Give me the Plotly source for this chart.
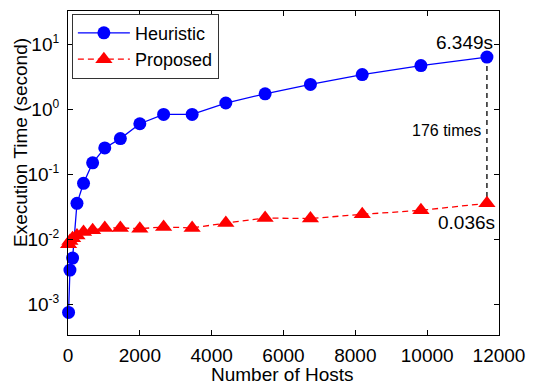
import plotly.graph_objects as go
import math

hosts = [16, 54, 128, 250, 432, 686, 1024, 1458, 2000, 2662, 3456, 4394, 5488, 6750, 8192, 9826, 11664]
heuristic = [0.00076, 0.0034, 0.0052, 0.036, 0.073, 0.151, 0.255, 0.355, 0.60, 0.835, 0.835,
             1.25, 1.73, 2.41, 3.42, 4.70, 6.349]
proposed = [0.0085, 0.0095, 0.0105, 0.0115, 0.0131, 0.0139, 0.0151, 0.0151, 0.0147, 0.0156, 0.0151,
            0.0179, 0.0214, 0.0210, 0.0244, 0.0281, 0.036]

x_ticks = [0, 2000, 4000, 6000, 8000, 10000, 12000]
y_exps = [-3, -2, -1, 0, 1]
y_tickvals = [10 ** e for e in y_exps]
y_ticktext = ["10<sup><span style='font-size:12px'>%d</span></sup>" % e for e in y_exps]

FONT = "Liberation Sans, Arial, sans-serif"
BLUE = "#0000FF"
RED = "#FF0000"

fig = go.Figure()

# dashed connector between final points
fig.add_trace(go.Scatter(
    x=[hosts[-1], hosts[-1]], y=[heuristic[-1], proposed[-1]],
    mode="lines", line=dict(color="black", width=1.3, dash="5px,4px"),
    showlegend=False, hoverinfo="skip", cliponaxis=False))

fig.add_trace(go.Scatter(
    x=hosts, y=heuristic, name="Heuristic", mode="lines+markers",
    line=dict(color=BLUE, width=1.3),
    marker=dict(symbol="circle", size=13, color=BLUE),
    cliponaxis=False))

fig.add_trace(go.Scatter(
    x=hosts, y=proposed, name="Proposed", mode="lines+markers",
    line=dict(color=RED, width=1.3, dash="6px,4px"),
    marker=dict(symbol="triangle-up", size=15, color=RED),
    cliponaxis=False))

ratio = heuristic[-1] / proposed[-1]
mid = 10 ** ((math.log10(heuristic[-1]) + math.log10(proposed[-1])) / 2)

annotations = [
    dict(x=hosts[-1], y=math.log10(heuristic[-1]), xref="x", yref="y",
         text="%.3fs" % heuristic[-1], showarrow=False, xanchor="right", yanchor="middle",
         xshift=8, yshift=15, font=dict(family=FONT, size=19, color="black")),
    dict(x=hosts[-1], y=math.log10(proposed[-1]), xref="x", yref="y",
         text="%.3fs" % proposed[-1], showarrow=False, xanchor="right", yanchor="middle",
         xshift=10, yshift=-19, font=dict(family=FONT, size=19, color="black")),
    dict(x=hosts[-1], y=math.log10(mid), xref="x", yref="y",
         text="%d times" % round(ratio), showarrow=False, xanchor="right", yanchor="middle",
         xshift=-4, yshift=0, font=dict(family=FONT, size=16, color="black")),
    dict(x=-0.1104, y=0.5938, xref="paper", yref="paper", text="Execution Time (second)",
         textangle=-90, showarrow=False, xanchor="center", yanchor="middle",
         font=dict(family=FONT, size=19, color="black")),
    dict(x=0.498, y=-0.1212, xref="paper", yref="paper", text="Number of Hosts",
         showarrow=False, xanchor="center", yanchor="middle", borderpad=0,
         font=dict(family=FONT, size=19, color="black")),
]

fig.update_layout(
    width=535, height=385,
    margin=dict(l=68, r=28, t=10, b=50),
    paper_bgcolor="white", plot_bgcolor="white",
    font=dict(family=FONT, size=19, color="black"),
    showlegend=True,
    legend=dict(x=0.009, y=0.992, xanchor="left", yanchor="top",
                bgcolor="white", bordercolor="#333333", borderwidth=1,
                font=dict(family=FONT, size=18, color="black"),
                tracegroupgap=0, itemwidth=52),
    annotations=annotations,
)

fig.update_xaxes(
    range=[0, 12000], tickvals=x_ticks, ticktext=[str(v) for v in x_ticks],
    ticks="inside", ticklen=5, tickcolor="black", tickwidth=1,
    showline=True, linecolor="black", linewidth=1, mirror="ticks",
    showgrid=False, zeroline=False, ticklabelstandoff=3,
    tickfont=dict(family=FONT, size=19, color="black"))

fig.update_yaxes(
    type="log", range=[-3.466, 1.51], tickvals=y_tickvals, ticktext=y_ticktext,
    ticks="inside", ticklen=5, tickcolor="black", tickwidth=1,
    showline=True, linecolor="black", linewidth=1, mirror="ticks",
    showgrid=False, zeroline=False, ticklabelstandoff=4,
    tickfont=dict(family=FONT, size=19, color="black"))

fig.write_html("out.html", config={"displayModeBar": False},
               post_script="document.body.style.margin='0';document.body.style.overflow='hidden';")
